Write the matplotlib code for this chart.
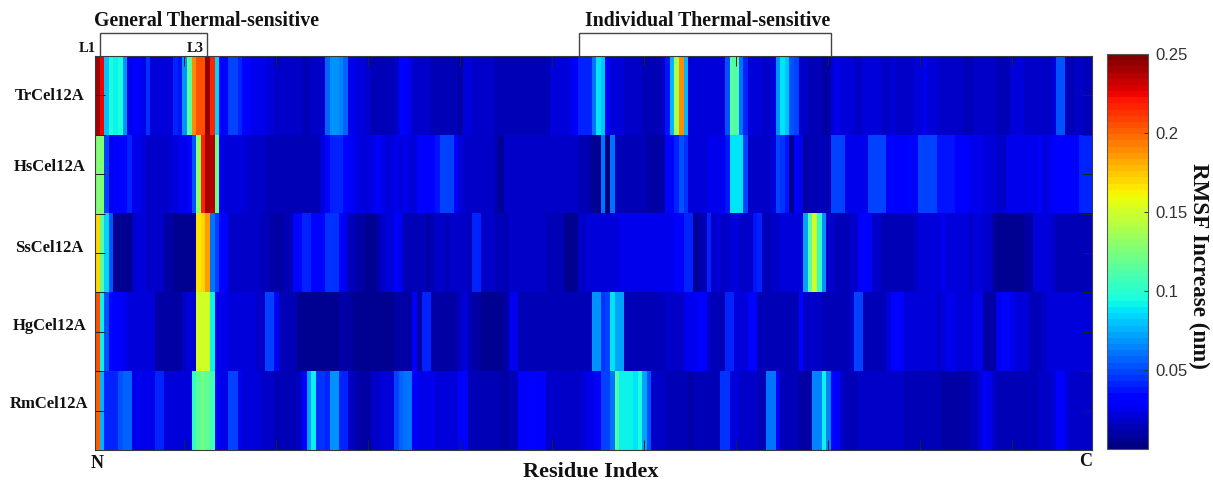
import numpy as np
import matplotlib
matplotlib.use('Agg')
import matplotlib.pyplot as plt

# RMSF increase per residue, in 0.001 nm (10 residues a line)
tr = [240,225,80,95,90,95,70,26,28,28,
      26,46,21,21,21,21,21,40,37,70,
      115,190,205,205,245,215,85,35,33,50,
      50,40,35,28,26,26,26,23,23,17,
      17,17,19,19,17,15,15,17,17,19,
      58,68,68,65,58,26,26,23,23,17,
      15,15,12,12,15,17,33,28,26,19,
      17,17,17,15,15,15,12,12,12,11,
      21,21,19,17,17,17,17,15,15,12,
      12,12,12,12,12,12,12,12,12,21,
      21,23,23,26,30,42,42,42,62,88,
      82,28,21,21,21,19,19,19,19,15,
      15,15,15,17,37,75,140,190,75,23,
      23,23,23,23,23,23,23,53,115,110,
      60,40,21,21,21,19,19,21,70,88,
      80,53,48,17,17,15,12,12,11,11,
      21,26,23,21,21,19,19,21,23,23,
      21,19,19,21,19,19,19,19,21,21,
      26,23,21,19,19,17,17,17,17,15,
      15,17,19,19,17,17,15,15,15,21,
      21,21,19,19,19,19,17,19,21,53,
      53,15,15,17,17,15,15]
hs = [125,125,48,26,30,33,33,40,26,26,
      23,17,17,17,17,17,21,23,26,26,
      35,53,130,215,240,238,120,26,23,21,
      21,21,21,19,19,19,19,15,12,12,
      12,12,15,15,15,15,12,12,15,21,
      33,40,40,40,35,28,26,23,23,23,
      26,28,26,23,23,26,23,26,23,23,
      28,28,28,30,37,50,50,50,35,21,
      19,19,19,19,19,19,19,11,7,17,
      17,17,17,17,19,19,17,17,17,17,
      17,17,17,17,17,15,15,9,7,7,
      60,3,60,12,12,12,12,12,12,12,
      11,11,11,11,35,35,40,53,44,23,
      23,23,23,26,26,26,26,37,88,88,
      88,48,19,17,17,17,17,21,48,46,
      37,5,28,26,9,15,15,15,15,15,
      48,48,48,26,26,26,26,26,48,48,
      48,48,30,30,30,30,33,33,33,48,
      48,48,48,37,37,37,37,30,28,28,
      26,26,26,23,21,21,19,17,26,26,
      26,26,26,26,26,28,23,26,28,28,
      28,28,28,30,42,42,42]
ss = [170,115,85,53,7,7,7,7,19,21,
      21,19,19,19,19,9,9,7,7,7,
      7,7,165,170,185,60,48,35,35,19,
      19,19,19,19,19,17,12,15,11,11,
      11,12,15,33,35,40,42,33,35,35,
      44,44,44,28,26,12,12,11,11,5,
      5,9,19,21,21,28,26,15,12,12,
      12,12,11,15,17,17,15,17,19,19,
      17,15,40,40,17,17,17,15,15,15,
      17,17,19,19,19,17,17,17,15,15,
      15,15,7,7,7,17,19,21,21,21,
      21,21,23,23,26,26,26,26,26,26,
      26,26,26,26,26,26,28,28,40,40,
      7,9,15,40,19,21,19,19,21,21,
      17,17,19,37,40,15,15,19,19,21,
      21,21,21,23,72,115,150,105,70,19,
      17,15,15,15,17,17,30,30,30,19,
      17,15,15,15,15,15,15,15,19,21,
      21,21,23,23,26,21,21,21,23,21,
      19,23,23,19,17,11,7,7,7,7,
      7,7,9,9,21,23,23,23,19,15,
      12,12,12,12,15,15,15]
hg = [205,92,53,33,28,28,26,23,21,21,
      21,21,21,9,9,9,9,9,9,19,
      21,19,150,150,150,90,26,26,26,23,
      23,23,21,21,21,19,19,50,48,35,
      15,15,15,15,7,7,7,7,7,7,
      7,7,7,9,9,9,7,7,7,5,
      5,5,7,7,7,9,11,9,9,28,
      9,40,40,11,11,11,9,9,9,19,
      21,12,9,9,7,7,7,7,7,9,
      26,26,15,15,12,12,12,12,12,12,
      12,12,12,12,12,12,12,15,70,70,
      46,48,88,72,72,12,12,12,12,12,
      12,12,12,12,17,17,17,19,26,26,
      26,28,28,19,15,15,15,40,40,23,
      21,21,33,33,12,12,12,12,12,12,
      15,15,15,33,19,19,19,17,15,15,
      15,15,15,15,17,48,48,12,12,12,
      12,12,23,28,33,28,21,21,21,21,
      21,21,21,19,21,26,26,23,23,23,
      23,26,26,11,9,9,26,33,33,26,
      23,23,21,15,15,15,19,21,21,21,
      21,21,21,21,21,23,23]
rm = [200,75,40,40,40,53,58,55,26,26,
      26,26,26,40,40,21,21,21,21,21,
      21,105,115,122,115,108,28,26,26,48,
      50,26,23,23,23,23,17,17,17,15,
      15,15,15,15,17,35,72,92,46,44,
      42,68,68,40,40,17,12,11,11,11,
      17,19,21,21,21,48,58,60,60,30,
      26,26,26,26,21,21,21,21,23,35,
      33,15,12,12,12,12,12,12,11,11,
      12,12,28,30,33,33,30,28,19,17,
      17,17,17,17,17,17,23,26,26,28,
      48,48,62,112,92,90,90,88,96,72,
      53,17,17,17,12,12,12,12,12,11,
      12,12,12,12,12,12,44,44,21,21,
      19,17,17,17,15,15,60,60,28,15,
      12,12,12,9,9,9,66,66,92,66,
      33,33,17,15,15,15,17,17,17,17,
      17,17,17,17,17,17,15,15,15,12,
      12,12,12,12,9,9,9,9,9,11,
      12,15,23,28,26,19,12,12,12,12,
      12,12,12,12,15,17,17,19,23,28,
      28,21,19,19,17,17,17]

proteins = ['TrCel12A', 'HsCel12A', 'SsCel12A', 'HgCel12A', 'RmCel12A']
cbar_ticks = [0.05, 0.1, 0.15, 0.2, 0.25]
cbar_labels = ['0.05', '0.1', '0.15', '0.2', '0.25']

rmsf = np.array([tr, hs, ss, hg, rm]) / 1000.0
n_res = rmsf.shape[1]

W, H = 1213, 483
SERIF = 'Liberation Serif'
EDGE = '#3a3a3a'

fig = plt.figure(figsize=(W / 100, H / 100), dpi=100)
ax = fig.add_axes([94.5 / W, 1 - 450 / H, 997.5 / W, 394 / H])
cax = fig.add_axes([1107 / W, 1 - 449 / H, 41 / W, 395 / H])

cmap = plt.get_cmap('jet', 64)
im = ax.imshow(rmsf, cmap=cmap, vmin=0, vmax=0.25, aspect='auto',
               interpolation='nearest',
               extent=[0.5, n_res + 0.5, 5.5, 0.5])

# MATLAB style ticks, inward on all sides
ax.set_xticks(np.arange(20, 201, 20))
ax.set_yticks(np.arange(1, 5.6, 0.5))
ax.tick_params(direction='in', length=7, width=0.7, color='#222222',
               top=True, right=True, labelbottom=False, labelleft=False)
for sp in ax.spines.values():
    sp.set_color(EDGE)
    sp.set_linewidth(0.8)

# row labels sit a little above the row centres in the original
for name, y_px in zip(proteins, [96, 167, 248, 326, 404]):
    fig.text(49.5 / W, 1 - y_px / H, name, ha='center', va='center', family=SERIF,
             fontweight='bold', fontsize=12, color='#111111')

# brackets over the thermal-sensitive regions
for x0, x1 in [(1.63, 24.9), (106, 160.8)]:
    ax.plot([x0, x0, x1, x1], [0.5, 0.21, 0.21, 0.5], color='#444444', lw=1,
            clip_on=False, solid_joinstyle='miter')
ax.set_xlim(0.5, n_res + 0.5)
ax.set_ylim(5.5, 0.5)

fig.text(206.5 / W, 1 - 21 / H, 'General Thermal-sensitive', ha='center', va='center',
         family=SERIF, fontweight='bold', fontsize=14.3, color='#111111')
fig.text(708 / W, 1 - 21 / H, 'Individual Thermal-sensitive', ha='center', va='center',
         family=SERIF, fontweight='bold', fontsize=14.3, color='#111111')
fig.text(87 / W, 1 - 48 / H, 'L1', ha='center', va='center', family=SERIF,
         fontweight='bold', fontsize=10.5, color='#111111')
fig.text(195 / W, 1 - 48 / H, 'L3', ha='center', va='center', family=SERIF,
         fontweight='bold', fontsize=10.5, color='#111111')
fig.text(97 / W, 1 - 463 / H, 'N', ha='center', va='center', family=SERIF,
         fontweight='bold', fontsize=13, color='#111111')
fig.text(1086 / W, 1 - 462 / H, 'C', ha='center', va='center', family=SERIF,
         fontweight='bold', fontsize=13, color='#111111')
fig.text(591 / W, 1 - 472 / H, 'Residue Index', ha='center', va='center', family=SERIF,
         fontweight='bold', fontsize=16, color='#111111')

cbar = fig.colorbar(im, cax=cax)
cbar.set_ticks(cbar_ticks)
cbar.set_ticklabels(cbar_labels)
cbar.ax.tick_params(length=3, width=0.7, direction='in', color='#333333', pad=5,
                    labelsize=12, labelcolor='#333333')
for lab in cbar.ax.get_yticklabels():
    lab.set_family('Liberation Sans')
cbar.outline.set_edgecolor('#555555')
cbar.outline.set_linewidth(0.8)
fig.text(1199 / W, 1 - 266 / H, 'RMSF Increase (nm)', rotation=-90, ha='center', va='center',
         family=SERIF, fontweight='bold', fontsize=16.6, color='#111111')

fig.savefig('out.png', dpi=100)
